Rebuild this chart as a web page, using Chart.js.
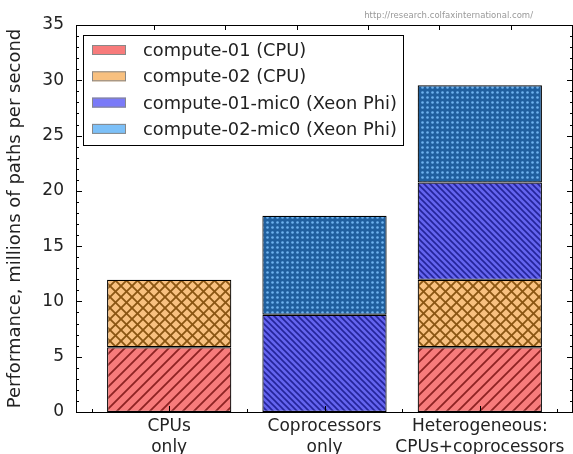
<!DOCTYPE html>
<html>
<head>
<meta charset="utf-8">
<script src="https://cdn.jsdelivr.net/npm/chart.js@4"></script>
<style>
  html, body { margin: 0; padding: 0; background: #fff; }
  #wrap { width: 573px; height: 454px; }
</style>
</head>
<body>
<div id="wrap"><canvas id="chart"></canvas></div>
<script>
// categories (x positions 0,1,2)
const categories = [['CPUs', 'only'], ['Coprocessors', 'only'], ['Heterogeneous:', 'CPUs+coprocessors']];
const seriesNames = ['compute-01 (CPU)', 'compute-02 (CPU)', 'compute-01-mic0 (Xeon Phi)', 'compute-02-mic0 (Xeon Phi)'];
const cpu01 = [5.85, null, 5.85];
const cpu02 = [6.1, null, 6.1];
const mic01 = [null, 8.8, 8.8];
const mic02 = [null, 8.95, 8.8];
const yTicks = [0, 5, 10, 15, 20, 25, 30, 35];
const topTicks = [-0.1, 0.36, 0.82, 1.28, 1.74, 2.2];
const watermark = 'http://research.colfaxinternational.com/';

const FONT = "'DejaVu Sans', sans-serif";

function makePattern(bg, fg, kind) {
  const s = kind === 'dots' ? 5 : (kind === 'back' ? 6 : 11);
  const c = document.createElement('canvas');
  c.width = s; c.height = s;
  const g = c.getContext('2d');
  g.fillStyle = bg;
  g.fillRect(0, 0, s, s);
  g.strokeStyle = fg;
  g.lineWidth = kind === 'back' ? 1.6 : 1.8;
  const fwd = () => {
    g.beginPath();
    g.moveTo(-1, s + 1); g.lineTo(s + 1, -1);
    g.moveTo(-1, 1); g.lineTo(1, -1);
    g.moveTo(s - 1, s + 1); g.lineTo(s + 1, s - 1);
    g.stroke();
  };
  const back = () => {
    g.beginPath();
    g.moveTo(-1, -1); g.lineTo(s + 1, s + 1);
    g.moveTo(s - 1, -1); g.lineTo(s + 1, 1);
    g.moveTo(-1, s - 1); g.lineTo(1, s + 1);
    g.stroke();
  };
  if (kind === 'fwd') fwd();
  if (kind === 'back') back();
  if (kind === 'cross') { fwd(); back(); }
  if (kind === 'dots') {
    g.fillStyle = fg;
    g.fillRect(0, 0, s, s);
    g.fillStyle = bg;
    g.beginPath();
    g.arc(s / 2, s / 2, 1.3, 0, Math.PI * 2);
    g.fill();
  }
  return g.createPattern(c, 'repeat');
}

const solid = ['#f77b7b', '#f8c07f', '#7a7af8', '#7cc0f8'];
const patterns = [
  makePattern(solid[0], '#8e2222', 'fwd'),
  makePattern(solid[1], '#8a5512', 'cross'),
  makePattern('#6464ee', '#24249a', 'back'),
  makePattern('#6fb3ee', '#1f5f9e', 'dots')
];

function toPoints(arr) {
  return arr.map((v, i) => ({ x: i, y: v }));
}

const seriesData = [cpu01, cpu02, mic01, mic02];
const datasets = seriesData.map((arr, i) => ({
  label: seriesNames[i],
  data: toPoints(arr),
  backgroundColor: patterns[i],
  borderColor: '#000',
  borderWidth: 1.2,
  borderSkipped: false,
  categoryPercentage: 0.8,
  barPercentage: 1.0
}));

const framePlugin = {
  id: 'frame',
  afterDraw(chart) {
    const ctx = chart.ctx;
    const a = chart.chartArea;
    const xs = chart.scales.x, ys = chart.scales.y;
    ctx.save();
    ctx.strokeStyle = '#000';
    ctx.lineWidth = 1;
    // spines
    ctx.strokeRect(a.left + 0.5, a.top + 0.5, a.right - a.left - 1, a.bottom - a.top);
    // y ticks, inward on both sides
    ctx.beginPath();
    for (let v = 0; v <= 35; v++) {
      const y = Math.round(ys.getPixelForValue(v)) + 0.5;
      const len = v % 5 === 0 ? 6 : 3;
      ctx.moveTo(a.left, y); ctx.lineTo(a.left + len, y);
      ctx.moveTo(a.right, y); ctx.lineTo(a.right - len, y);
    }
    // x ticks
    [0, 1, 2].forEach(v => {
      const x = Math.round(xs.getPixelForValue(v)) + 0.5;
      ctx.moveTo(x, a.bottom); ctx.lineTo(x, a.bottom - 6);
    });
    [-0.5, 0.5, 1.5, 2.5].forEach(v => {
      const x = Math.round(xs.getPixelForValue(v)) + 0.5;
      ctx.moveTo(x, a.bottom); ctx.lineTo(x, a.bottom - 3);
    });
    topTicks.forEach(v => {
      const x = Math.round(xs.getPixelForValue(v)) + 0.5;
      ctx.moveTo(x, a.top); ctx.lineTo(x, a.top + 5);
    });
    ctx.stroke();

    // legend
    const lx = 83, ly = 35, lw = 320, lh = 110;
    ctx.fillStyle = '#fff';
    ctx.fillRect(lx, ly, lw, lh);
    ctx.strokeRect(lx + 0.5, ly + 0.5, lw, lh);
    ctx.font = '17.8px ' + FONT;
    ctx.textBaseline = 'middle';
    chart.data.datasets.forEach((ds, i) => {
      const cy = 50 + i * 26.3;
      ctx.fillStyle = solid[i];
      ctx.fillRect(92, cy - 5, 34, 10);
      ctx.strokeStyle = '#888';
      ctx.strokeRect(92.5, cy - 4.5, 33, 9);
      ctx.fillStyle = '#222';
      ctx.fillText(ds.label, 143, cy + 1.5);
    });

    // watermark
    ctx.font = '8.5px ' + FONT;
    ctx.fillStyle = '#999';
    ctx.textAlign = 'right';
    ctx.textBaseline = 'alphabetic';
    ctx.fillText(watermark, 533, 18);
    ctx.restore();
  }
};

new Chart(document.getElementById('chart'), {
  type: 'bar',
  data: { datasets: datasets },
  options: {
    responsive: true,
    maintainAspectRatio: false,
    animation: false,
    layout: { padding: { top: 25, right: 0, left: 0, bottom: 0 } },
    plugins: {
      legend: { display: false },
      tooltip: { enabled: false }
    },
    scales: {
      x: {
        type: 'linear',
        stacked: true,
        offset: false,
        min: -0.6,
        max: 2.6,
        grid: { display: false, offset: false },
        border: { display: false },
        afterFit(scale) { scale.height = 42; },
        ticks: {
          stepSize: 1,
          includeBounds: false,
          autoSkip: false,
          maxRotation: 0,
          padding: -3,
          color: '#222',
          font: { family: FONT, size: 17, lineHeight: 1.18 },
          callback: v => (Number.isInteger(v) && categories[v]) ? categories[v] : ''
        }
      },
      y: {
        stacked: true,
        min: 0,
        max: 35,
        grid: { display: false },
        border: { display: false },
        afterFit(scale) { scale.width = 76; },
        afterBuildTicks(scale) { scale.ticks = yTicks.map(v => ({ value: v })); },
        ticks: {
          padding: 4,
          color: '#222',
          font: { family: FONT, size: 17 }
        },
        title: {
          display: true,
          text: 'Performance, millions of paths per second',
          color: '#222',
          font: { family: FONT, size: 18 },
          padding: { top: 5, bottom: 0 }
        }
      }
    }
  },
  plugins: [framePlugin]
});
</script>
</body>
</html>
